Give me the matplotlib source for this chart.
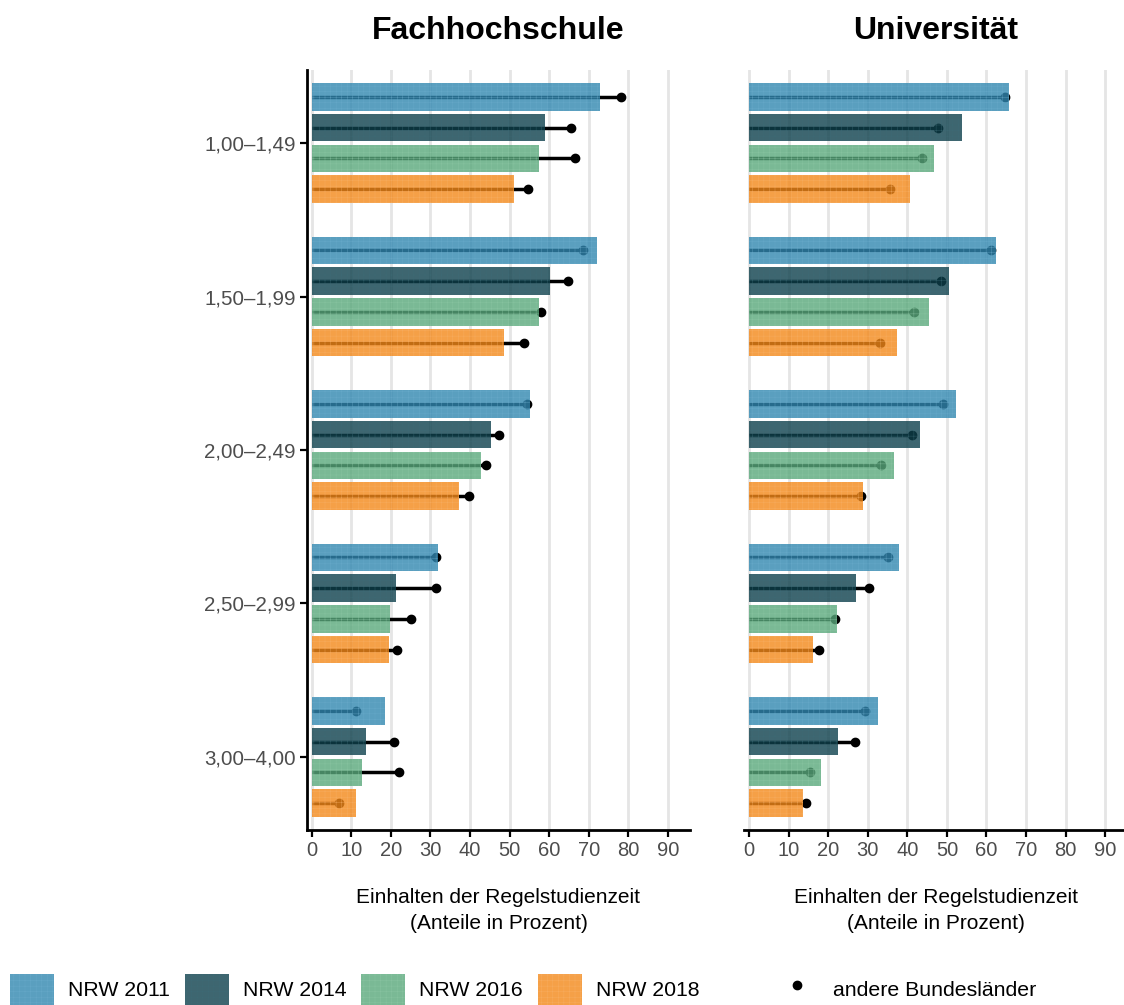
import numpy as np
import matplotlib
matplotlib.use('Agg')
import matplotlib.pyplot as plt
from matplotlib.patches import Patch
from matplotlib.lines import Line2D

plt.rcParams['font.family'] = ['Liberation Sans', 'DejaVu Sans']
plt.rcParams['hatch.linewidth'] = 0.3

groups = ["1,00–1,49", "1,50–1,99", "2,00–2,49", "2,50–2,99", "3,00–4,00"]
years = ["NRW 2011", "NRW 2014", "NRW 2016", "NRW 2018"]
colors = ["#3187b0", "#0e404c", "#59a87b", "#f38819"]
hatch_colors = ["#6aabcb", "#3d6b76", "#8cc6a4", "#f8b066"]
panels = ["Fachhochschule", "Universität"]

# NRW shares (bars), rows = grade groups, cols = years
fh_nrw = [[72.8, 58.9, 57.4, 51.1],
          [72.1, 60.2, 57.4, 48.5],
          [55.1, 45.3, 42.7, 37.2],
          [31.9, 21.4, 19.9, 19.6],
          [18.4, 13.8, 12.8, 11.3]]
fh_other = [[78.1, 65.5, 66.5, 54.6],
            [68.5, 64.7, 57.9, 53.6],
            [54.4, 47.3, 44.0, 39.7],
            [31.5, 31.4, 25.1, 21.6],
            [11.3, 20.7, 22.1, 6.8]]
uni_nrw = [[65.8, 53.7, 46.8, 40.7],
           [62.4, 50.5, 45.4, 37.3],
           [52.4, 43.3, 36.7, 28.7],
           [37.8, 27.1, 22.3, 16.2],
           [32.5, 22.6, 18.3, 13.7]]
uni_other = [[64.7, 47.7, 43.6, 35.7],
             [61.1, 48.4, 41.8, 33.2],
             [49.0, 41.2, 33.3, 28.3],
             [35.0, 30.4, 21.6, 17.7],
             [29.2, 26.9, 15.5, 14.5]]

W, H = 1124, 1005
fig = plt.figure(figsize=(W / 100, H / 100), dpi=100)

offsets = [-0.3, -0.1, 0.1, 0.3]
ypos = np.arange(1, len(groups) + 1)
ALPHA = 0.8
xticks = np.arange(0, 100, 10)


def draw_panel(ax, nrw, other, title, show_y):
    nrw = np.array(nrw)
    other = np.array(other)
    ax.set_axisbelow(True)
    for j in range(len(years)):
        y = ypos + offsets[j]
        ax.hlines(y, 0, other[:, j], color="black", lw=2.5, zorder=2)
        ax.plot(other[:, j], y, "o", color="black", ms=6, zorder=2)
        ax.barh(y, nrw[:, j], height=0.18, color=colors[j], alpha=ALPHA,
                edgecolor=hatch_colors[j], linewidth=0, hatch="+++", zorder=3)
    ax.set_xlim(-1.2, 95.6)
    ax.set_ylim(5.4756, 0.5244)
    ax.set_xticks(xticks)
    ax.set_xticklabels([str(v) for v in xticks])
    ax.xaxis.grid(True, color="#e5e5e5", lw=2.0)
    ax.yaxis.grid(False)
    for s in ["top", "right"]:
        ax.spines[s].set_visible(False)
    ax.spines["bottom"].set_linewidth(2.0)
    ax.tick_params(axis="x", length=5, width=1.6, labelsize=14.5,
                   labelcolor="#4d4d4d", pad=3)
    if show_y:
        ax.spines["left"].set_linewidth(2.0)
        ax.set_yticks(ypos)
        ax.set_yticklabels(groups)
        ax.tick_params(axis="y", length=5, width=1.6, labelsize=14.8,
                       labelcolor="#4d4d4d", pad=3)
    else:
        ax.spines["left"].set_visible(False)
        ax.set_yticks([])
    ax.set_xlabel("Einhalten der Regelstudienzeit\n(Anteile in Prozent)",
                  fontsize=15, linespacing=1.45, labelpad=20)
    ax.set_title(title, fontsize=23, fontweight="bold", pad=22)


ax1 = fig.add_axes([307 / W, 1 - 830 / H, 383 / W, 760 / H])
ax2 = fig.add_axes([744.3 / W, 1 - 830 / H, 383 / W, 760 / H])
draw_panel(ax1, fh_nrw, fh_other, panels[0], True)
draw_panel(ax2, uni_nrw, uni_other, panels[1], False)

handles = [Patch(facecolor=colors[j], alpha=ALPHA, edgecolor=hatch_colors[j],
                 linewidth=0, hatch="+++") for j in range(len(years))]
leg1 = fig.legend(handles, years, loc="lower left", bbox_to_anchor=(10 / W, 0),
                  ncol=4, frameon=False, fontsize=15.3, handlelength=2.07,
                  handleheight=1.88, handletextpad=0.66, columnspacing=0.7,
                  borderpad=0, borderaxespad=0)
dot = Line2D([], [], marker="o", color="black", ls="none", ms=6)
leg2 = fig.legend([dot], ["andere Bundesländer"], loc="lower left",
                  bbox_to_anchor=(775 / W, 0), frameon=False, fontsize=15.3,
                  handlelength=2.07, handleheight=1.88, handletextpad=0.66,
                  borderpad=0, borderaxespad=0)

fig.savefig("out.png", dpi=100)
